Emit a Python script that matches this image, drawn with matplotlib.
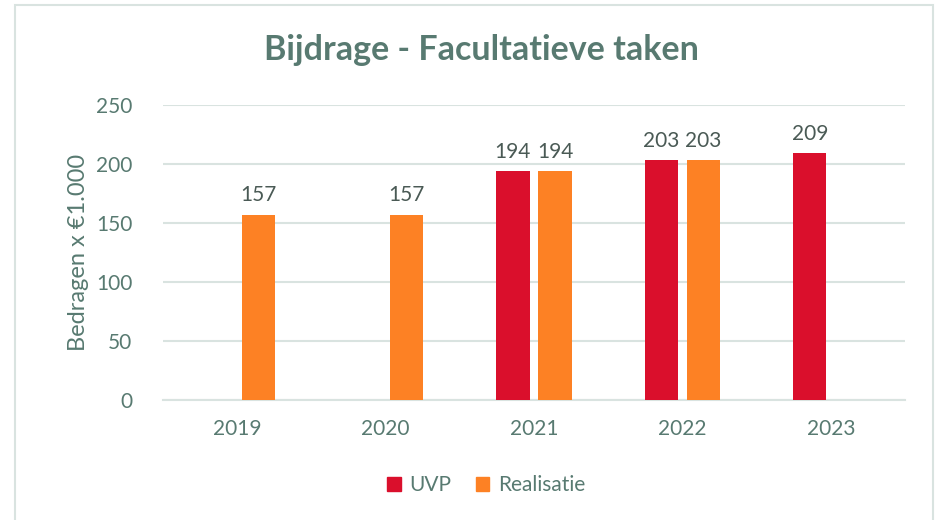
import numpy as np
import matplotlib.pyplot as plt
import matplotlib.patches as mPatch

# Data
years = ["2019", "2020", "2021", "2022", "2023"]
uvp = [None, None, 194, 203, 209]
realisatie = [157, 157, 194, 203, None]

# Style stuff
UVP_COLOUR = "#DA0F2C"
REAL_COLOUR = "#FD8124"
TEXT_COLOUR = "#587A71"
LABEL_COLOUR = "#4A5A55"
GRID_COLOUR = "#D9E3E0"
BAR_WIDTH = 0.225
BAR_OFFSET = 0.142

plt.rcParams['font.family'] = ['Lato', 'DejaVu Sans']

fig = plt.figure(figsize=(9.45, 5.2), dpi=100)
ax = fig.add_axes([163 / 945, 1 - 400 / 520, 742 / 945, 295 / 520])

# chart frame round the whole thing
frame = mPatch.Rectangle((15 / 945, -0.05), 918 / 945, 1.04, transform=fig.transFigure,
                         fill=False, edgecolor=GRID_COLOUR, linewidth=1.5)
fig.patches.append(frame)

x = np.arange(len(years))
for i in range(len(years)):
    if uvp[i] is not None:
        ax.bar(x[i] - BAR_OFFSET, uvp[i], BAR_WIDTH, color=UVP_COLOUR, zorder=3)
        ax.text(x[i] - BAR_OFFSET, uvp[i] + 8, str(uvp[i]), ha='center', va='bottom',
                fontsize=15, color=LABEL_COLOUR)
    if realisatie[i] is not None:
        ax.bar(x[i] + BAR_OFFSET, realisatie[i], BAR_WIDTH, color=REAL_COLOUR, zorder=3)
        ax.text(x[i] + BAR_OFFSET, realisatie[i] + 8, str(realisatie[i]), ha='center', va='bottom',
                fontsize=15, color=LABEL_COLOUR)

ax.set_xlim(-0.5, len(years) - 0.5)
ax.set_ylim(0, 250)
ax.set_yticks(np.arange(0, 251, 50))
ax.set_xticks(x)
ax.set_xticklabels(years)
ax.grid(axis='y', color=GRID_COLOUR, linewidth=1.5, zorder=0)
for side in ["top", "right", "left"]:
    ax.spines[side].set_visible(False)
ax.spines["bottom"].set_color(GRID_COLOUR)
ax.spines["bottom"].set_linewidth(1.5)
ax.tick_params(axis='both', length=0, labelsize=15, labelcolor=TEXT_COLOUR)
ax.tick_params(axis='y', pad=22)
ax.tick_params(axis='x', pad=14)

ax.set_ylabel("Bedragen x €1.000", fontsize=17, color=TEXT_COLOUR, labelpad=5)
fig.text(481 / 945, 1 - 50 / 520, "Bijdrage - Facultatieve taken", ha='center', va='center',
         fontsize=24.5, fontweight='bold', color=TEXT_COLOUR)

legend_elements = [mPatch.Patch(color=UVP_COLOUR, label="UVP"),
                   mPatch.Patch(color=REAL_COLOUR, label="Realisatie")]
fig.legend(handles=legend_elements, loc='center', bbox_to_anchor=(486 / 945, 1 - 485 / 520),
           ncol=2, frameon=False, fontsize=15, labelcolor=TEXT_COLOUR,
           handlelength=0.65, handleheight=0.65, handletextpad=0.4, columnspacing=1.2)

fig.savefig("out.png", dpi=100)
